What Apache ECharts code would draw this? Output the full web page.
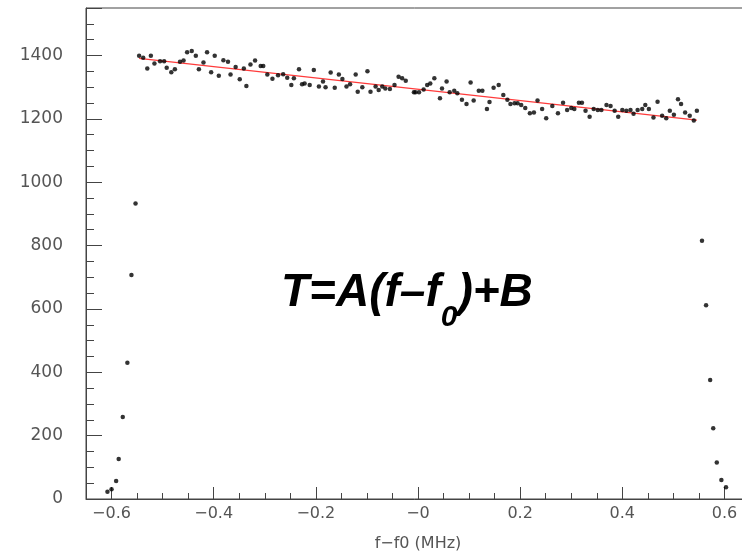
<!DOCTYPE html>
<html>
<head>
<meta charset="utf-8">
<script src="https://cdn.jsdelivr.net/npm/echarts@6/dist/echarts.min.js"></script>
<style>
html,body{margin:0;padding:0;background:#fff;}
#c{width:742px;height:553px;}
</style>
</head>
<body>
<div id="c"></div>
<script>
// measured frequency offsets (MHz)
const freqs = [
 -0.608,-0.600,-0.591,-0.586,-0.578,-0.569,-0.561,-0.553,
 -0.546,-0.538,-0.523,-0.530,-0.516,-0.505,-0.497,-0.492,-0.483,-0.476,-0.466,-0.459,-0.452,-0.443,-0.435,-0.429,-0.420,-0.413,-0.405,-0.398,-0.390,-0.381,-0.372,-0.367,-0.357,-0.349,-0.341,-0.336,-0.328,-0.319,-0.308,-0.303,-0.295,-0.285,
 -0.274,-0.264,-0.256,-0.248,-0.243,-0.233,-0.227,-0.222,-0.212,-0.204,-0.194,-0.186,-0.181,-0.171,-0.163,-0.155,-0.148,-0.140,-0.133,-0.122,-0.118,-0.109,-0.099,-0.093,-0.083,-0.077,-0.070,-0.064,-0.055,-0.046,-0.038,-0.031,-0.024,-0.008,
 -0.005,0.002,0.011,0.018,0.024,0.032,0.043,0.047,0.056,0.062,0.071,0.077,0.086,0.095,0.103,0.109,0.119,0.126,0.135,0.140,0.148,0.158,0.167,0.175,0.181,0.189,0.195,0.202,0.210,0.219,0.227,0.234,0.243,0.251,0.263,
 0.274,0.284,0.292,0.300,0.306,0.315,0.321,0.328,0.336,0.344,0.352,0.359,0.369,0.377,0.385,0.392,0.400,0.408,0.416,0.422,0.430,0.439,0.445,0.452,0.461,0.469,0.478,0.486,0.493,0.501,0.509,0.515,0.523,0.532,0.540,0.546,
 0.556,0.564,0.572,0.578,0.585,0.594,0.603
];
// measured values T
const temps = [
 23,31,57,126,259,430,707,933,
 1399,1393,1399,1359,1375,1382,1382,1361,1347,1357,1380,1384,1410,1414,1399,1357,1378,1410,1347,1399,1336,1385,1380,1340,1364,1325,1359,1304,1372,1384,1367,1367,1340,1327,
 1338,1341,1330,1307,1328,1357,1309,1312,1307,1354,1302,1318,1300,1346,1298,1340,1326,1302,1309,1340,1286,1300,1350,1286,1302,1291,1302,1296,1294,1307,1333,1328,1320,1284,
 1284,1284,1293,1307,1312,1328,1265,1296,1318,1284,1289,1281,1260,1247,1315,1258,1289,1289,1231,1253,1298,1307,1275,1260,1247,1249,1249,1244,1234,1218,1220,1258,1231,1202,1241,
 1218,1251,1228,1234,1231,1251,1251,1226,1207,1231,1228,1228,1244,1241,1226,1207,1228,1226,1228,1216,1228,1231,1244,1231,1204,1254,1210,1202,1226,1213,1262,1247,1220,1210,1195,1226,
 815,612,376,223,115,60,37
];
// linear fit end points
const fitX = [-0.546, 0.546];
const fitY = [1391, 1196];
// tick labels
const xTickValues = [-0.6,-0.4,-0.2,0,0.2,0.4,0.6];
const xTickLabels = ['\u22120.6','\u22120.4','\u22120.2','\u22120','0.2','0.4','0.6'];
const yTickValues = [0,200,400,600,800,1000,1200,1400];
const yTickLabels = ['0','200','400','600','800','1000','1200','1400'];

const scatterData = freqs.map((f,i)=>[f,temps[i]]);
const fitData = fitX.map((f,i)=>[f,fitY[i]]);

function pick(vals, labels, v){
  for(let i=0;i<vals.length;i++){ if(Math.abs(Number(v)-vals[i])<1e-6) return labels[i]; }
  return '';
}

const axisGray = '#444';
const labelGray = '#555';
const chart = echarts.init(document.getElementById('c'));
chart.setOption({
  animation:false,
  backgroundColor:'#fff',
  grid:{left:86, top:8, right:-8, bottom:54, show:true, borderColor:axisGray, borderWidth:1, containLabel:false, outerBoundsMode:'none'},
  xAxis:{
    type:'value', min:-0.65, max:0.65, splitNumber:6,
    axisLine:{show:true, onZero:false, lineStyle:{color:axisGray, width:1}},
    axisTick:{show:true, inside:true, length:12, lineStyle:{color:axisGray, width:1}},
    minorTick:{show:true, splitNumber:4, length:6, lineStyle:{color:axisGray, width:1}},
    splitLine:{show:false},
    axisLabel:{
      margin:7, color:labelGray, fontSize:16, fontFamily:'DejaVu Sans',
      showMinLabel:false, showMaxLabel:false,
      formatter:function(v){ return pick(xTickValues, xTickLabels, v); }
    },
    name:'f\u2212f0 (MHz)', nameLocation:'middle', nameGap:37,
    nameTextStyle:{color:labelGray, fontSize:16, fontFamily:'DejaVu Sans'}
  },
  yAxis:{
    type:'value', min:0, max:1550, interval:200,
    axisLine:{show:true, onZero:false, lineStyle:{color:axisGray, width:1}},
    axisTick:{show:true, inside:true, length:16, lineStyle:{color:axisGray, width:1}},
    minorTick:{show:true, splitNumber:4, length:8, lineStyle:{color:axisGray, width:1}},
    splitLine:{show:false},
    axisLabel:{margin:23, color:labelGray, fontSize:17, fontFamily:'DejaVu Sans', showMaxLabel:false,
      formatter:function(v){ return pick(yTickValues, yTickLabels, v); }}
  },
  series:[
    {type:'scatter', data:scatterData, symbol:'circle', symbolSize:4.5, itemStyle:{color:'#000'}, z:3},
    {type:'line', data:fitData, showSymbol:false, symbol:'none', lineStyle:{color:'#ff3b3b', width:1.2}, z:2}
  ],
  graphic:[{
    type:'text', left:281, top:270, z:10,
    style:{
      text:'{a|T=A(f\u2013f}{b|0}{a|)+B}',
      rich:{
        a:{fontSize:46, fontWeight:'bold', fontStyle:'italic', fontFamily:'Liberation Sans, Arial', fill:'#000', lineHeight:50, verticalAlign:'top'},
        b:{fontSize:30, fontWeight:'bold', fontStyle:'italic', fontFamily:'Liberation Sans, Arial', fill:'#000', lineHeight:30, padding:[33,0,0,0], verticalAlign:'top'}
      }
    }
  }]
});
</script>
</body>
</html>
